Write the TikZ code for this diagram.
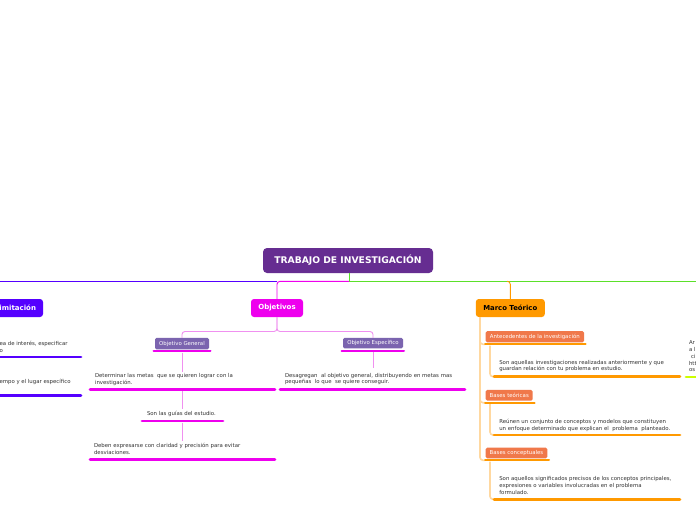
\documentclass[tikz,border=0pt]{standalone}
\usepackage{fontspec}
\setmainfont{DejaVu Sans}
\definecolor{rootc}{HTML}{662D91}
\definecolor{blueC}{HTML}{5500FF}
\definecolor{magC}{HTML}{EE00EE}
\definecolor{pinkC}{HTML}{F090F0}
\definecolor{subC}{HTML}{7B64AF}
\definecolor{orC}{HTML}{FF9900}
\definecolor{coralC}{HTML}{F0784A}
\definecolor{lightOr}{HTML}{FFD8A0}
\definecolor{greenC}{HTML}{5BE02A}
\definecolor{ygC}{HTML}{CCFF00}
\definecolor{txtC}{HTML}{333333}
\begin{document}
\begin{tikzpicture}[x=1pt,y=-1pt,
  every node/.style={inner sep=0pt, outer sep=0pt},
  txt/.style={font=\fontsize{5.4}{6.7}\selectfont, text=txtC, align=left, anchor=north west},
  bigbox/.style={rounded corners=3pt, minimum height=18pt, text=white, font=\fontsize{7}{8}\selectfont\bfseries},
  subbox/.style={rounded corners=1.5pt, text=white, font=\fontsize{5.4}{6}\selectfont},
  uline/.style={line width=2.8pt, line cap=round},
  sline/.style={line width=2pt, line cap=round},
  thin/.style={line width=0.9pt, rounded corners=3pt}]
\useasboundingbox (0,0) rectangle (696,520);
\clip (0,0) rectangle (696,520);
\fill[white] (0,0) rectangle (696,520);

% root
\node[fill=rootc, rounded corners=4pt, minimum width=170pt, minimum height=25pt, text=white,
  font=\fontsize{9.2}{10}\selectfont\bfseries] (root) at (348,260.5) {TRABAJO DE INVESTIGACIÓN};

\coordinate (jn) at (349,281.3);
\coordinate (jo) at (277,281.3);
\coordinate (jm) at (507,281.3);

% main branches
\draw[greenC, line width=1pt] (root.south -| jn) -- (jn) -- (700,281.3);
\draw[blueC, line width=1pt] (jo) -- (-5,281.3);

% Objetivos
\node[bigbox, fill=magC, minimum width=52pt] (obj) at (277,308) {Objetivos};
\draw[magC, thin] (jn) -- (jo) -- (obj.north);

% Delimitacion
\node[bigbox, fill=blueC, anchor=east, inner xsep=7pt] (del) at (43,308) {Delimitación};

% Marco teorico
\node[bigbox, fill=orC, minimum width=69pt, text=black, font=\fontsize{6.9}{8}\selectfont\bfseries] (mar) at (510.3,308) {Marco Teórico};
\draw[orC, thin] (jm) -- (510.3,281.3) -- (mar.north);

% Objetivo General / Especifico
\node[subbox, fill=subC, minimum width=54pt, minimum height=11.5pt] (og) at (182,343.7) {Objetivo General};
\node[subbox, fill=subC, minimum width=60pt, minimum height=10.5pt] (oe) at (373,343.2) {Objetivo Específico};
\draw[pinkC, thin] (obj.south) -- (277,331.5) -- (182,331.5) -- (og.north);
\draw[pinkC, thin] (obj.south) -- (277,331.5) -- (373,331.5) -- (oe.north);
\coordinate (ogu1) at (153.5,351); \coordinate (ogu2) at (210.5,351);
\coordinate (oeu1) at (341.5,350.7); \coordinate (oeu2) at (404,350.7);
\draw[magC, sline] (ogu1) -- (ogu2);
\draw[magC, sline] (oeu1) -- (oeu2);

% texts of Objetivo General
\node[txt] (t1) at (95,373.2) {Determinar las metas\ \ que se quieren lograr con la\\investigación.};
\coordinate (t1u1) at (90,389.3); \coordinate (t1u2) at (275,389.3);
\draw[magC, uline] (t1u1) -- (t1u2);
\node[txt] (t2) at (147,411.3) {Son las guías del estudio.};
\coordinate (t2u1) at (142,421); \coordinate (t2u2) at (223,421);
\draw[magC, uline] (t2u1) -- (t2u2);
\node[txt] (t3) at (94,443) {Deben expresarse con claridad y precisión para evitar\\desviaciones.};
\coordinate (t3u1) at (90,459.7); \coordinate (t3u2) at (275,459.7);
\draw[magC, uline] (t3u1) -- (t3u2);
\draw[pinkC, line width=0.9pt] (182,352.5) -- (182,372);
\draw[pinkC, line width=0.9pt] (182,391) -- (182,409);
\draw[pinkC, line width=0.9pt] (182,422.5) -- (182,441);

% text of Objetivo Especifico
\node[txt] (t4) at (285,373) {Desagregan\ \ al objetivo general, distribuyendo en metas mas\\pequeñas\ \ lo que\ \ se quiere conseguir.};
\coordinate (t4u1) at (280,389.3); \coordinate (t4u2) at (465,389.3);
\draw[magC, uline] (t4u1) -- (t4u2);
\draw[pinkC, line width=0.9pt] (373,352) -- (373,368);

% Marco children
\node[subbox, fill=coralC, minimum width=98.3pt, minimum height=11.3pt] (ant) at (534.85,336.7) {Antecedentes de la investigación};
\node[subbox, fill=coralC, minimum width=47pt, minimum height=10.7pt] (bt) at (509.2,395.3) {Bases teóricas};
\node[subbox, fill=coralC, minimum width=61.6pt, minimum height=10.6pt] (bc) at (516.5,453) {Bases conceptuales};
\coordinate (au1) at (485,344.3); \coordinate (au2) at (585.7,344.3);
\coordinate (bu1) at (485,402.7); \coordinate (bu2) at (534.7,402.7);
\coordinate (cu1) at (485,460.3); \coordinate (cu2) at (549,460.3);
\draw[lightOr, line width=1.6pt, rounded corners=3pt] (mar.south -| 480,0) -- (480,344.3) -- (au1);
\draw[lightOr, line width=1.6pt, rounded corners=3pt] (mar.south -| 480,0) -- (480,402.7) -- (bu1);
\draw[lightOr, line width=1.6pt, rounded corners=3pt] (mar.south -| 480,0) -- (480,460.3) -- (cu1);
\draw[orC, sline] (au1) -- (au2);
\draw[orC, sline] (bu1) -- (bu2);
\draw[orC, sline] (cu1) -- (cu2);

\node[txt] (t5) at (499.3,360.1) {Son aquellas investigaciones realizadas anteriormente y que\\guardan relación con tu problema en estudio.};
\node[txt] (t6) at (499.3,419.1) {Reúnen un conjunto de conceptos y modelos que constituyen\\un enfoque determinado que explican el\ \ problema\ \ planteado.};
\node[txt] (t7) at (499.3,476.7) {Son aquellos significados precisos de los conceptos principales,\\expresiones o variables involucradas en el problema\\formulado.};
\coordinate (t5u1) at (494,376.7); \coordinate (t5u2) at (680,376.7);
\coordinate (t6u1) at (494,435); \coordinate (t6u2) at (680,435);
\coordinate (t7u1) at (494,499.3); \coordinate (t7u2) at (680,499.3);
\draw[lightOr, line width=1.6pt, rounded corners=3pt] (490,345.5) -- (490,376.7) -- (t5u1);
\draw[lightOr, line width=1.6pt, rounded corners=3pt] (490,404) -- (490,435) -- (t6u1);
\draw[lightOr, line width=1.6pt, rounded corners=3pt] (490,461.5) -- (490,499.3) -- (t7u1);
\draw[orC, uline] (t5u1) -- (t5u2);
\draw[orC, uline] (t6u1) -- (t6u2);
\draw[orC, uline] (t7u1) -- (t7u2);

% Delimitacion children (cut by the left edge)
\node[txt] (d1) at (-0.5,341.2) {ea de interés, especificar\\o};
\coordinate (d1u1) at (-5,357); \coordinate (d1u2) at (81,357);
\draw[blueC, uline] (d1u1) -- (d1u2);
\node[txt] (d2) at (-0.5,379.4) {empo y el lugar específico};
\coordinate (d2u1) at (-5,395.7); \coordinate (d2u2) at (81,395.7);
\draw[blueC, uline] (d2u1) -- (d2u2);

% right child (cut by the right edge)
\node[txt] (r1) at (689,341) {Ar\\a l\\\hspace{2pt}ci\\htt\\os};
\coordinate (r1u1) at (686,377); \coordinate (r1u2) at (700,377);
\draw[ygC, uline] (r1u1) -- (r1u2);
\end{tikzpicture}
\end{document}
